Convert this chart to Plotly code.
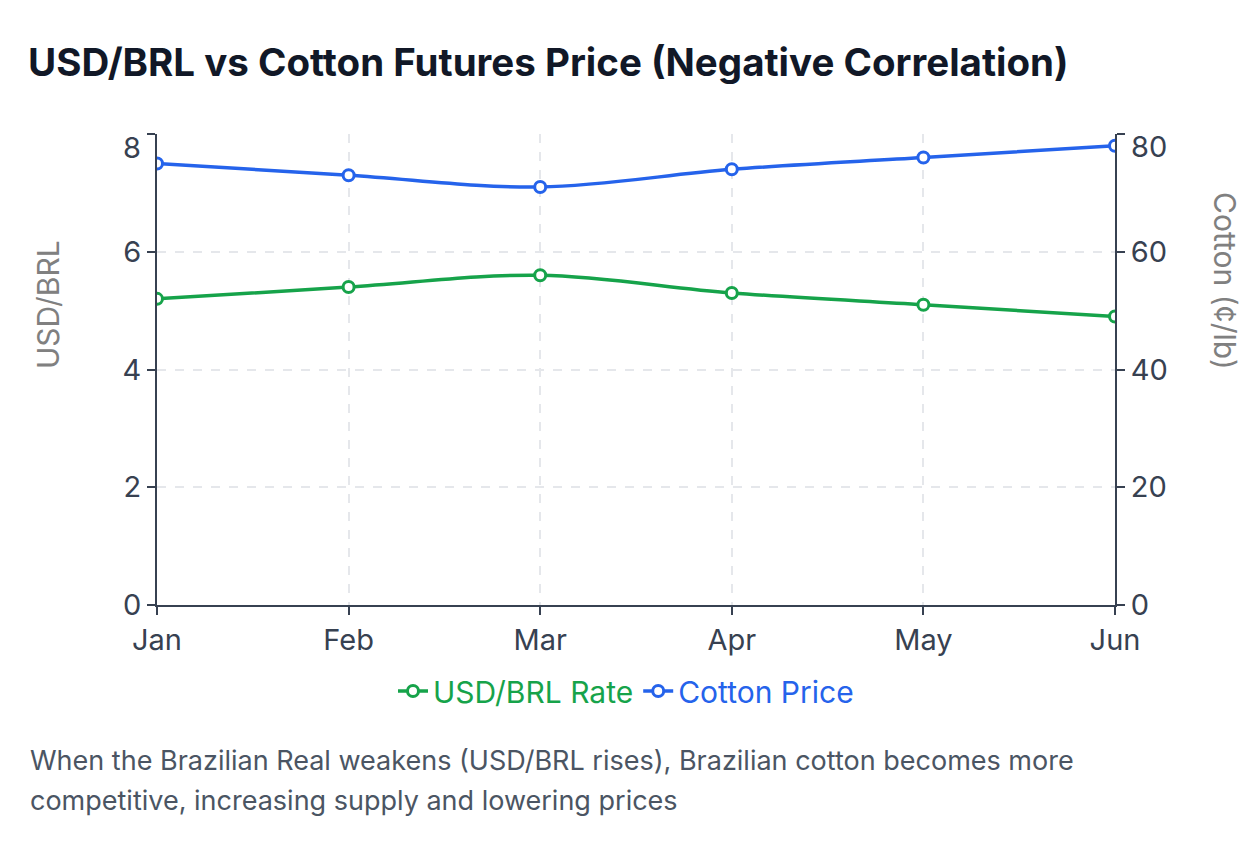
import plotly.graph_objects as go

months = ["Jan", "Feb", "Mar", "Apr", "May", "Jun"]
usd_brl = [5.2, 5.4, 5.6, 5.3, 5.1, 4.9]
cotton = [75, 73, 71, 74, 76, 78]
y1_ticks = [0, 2, 4, 6, 8]
y2_ticks = [0, 20, 40, 60, 80]

green = "#16a34a"
blue = "#2563eb"
axis_col = "#374151"
grid_col = "#e5e7eb"

# page body adds 8px around the figure
W, H = 1243, 848
left, right, top, bottom = 157, 1115, 134, 605  # plot box on screen
pw, ph = right - left, bottom - top

fig = go.Figure()

fig.add_trace(go.Scatter(x=months, y=usd_brl,
                         name=f"<span style='color:{green}'>USD/BRL Rate</span>",
                         mode="lines+markers",
                         line=dict(color=green, width=3.5, shape="spline"),
                         marker=dict(size=11, color="white",
                                     line=dict(color=green, width=3))))

fig.add_trace(go.Scatter(x=months, y=cotton,
                         name=f"<span style='color:{blue}'>Cotton Price</span>",
                         mode="lines+markers", yaxis="y2",
                         line=dict(color=blue, width=3.5, shape="spline"),
                         marker=dict(size=11, color="white",
                                     line=dict(color=blue, width=3))))

axis_common = dict(showline=True, linecolor=axis_col, linewidth=2,
                   ticks="outside", ticklen=8, tickcolor=axis_col, tickwidth=2,
                   tickfont=dict(size=29, color=axis_col))

# top labels sit just inside the plot in the original, so they are drawn separately
fig.update_layout(
    width=W, height=H,
    paper_bgcolor="white", plot_bgcolor="white",
    font=dict(family="Inter, sans-serif", color=axis_col, size=26),
    margin=dict(l=left - 8, r=W + 8 - right, t=top - 8, b=H + 8 - bottom),
    title=dict(text="<b>USD/BRL vs Cotton Futures Price (Negative Correlation)</b>",
               x=20 / W, xanchor="left", xref="container",
               y=1 - 55 / H, yanchor="middle", yref="container",
               font=dict(size=38.5, color="#111827")),
    xaxis=dict(type="category", range=[0, 5],
               showgrid=True, gridcolor=grid_col, griddash="dash", gridwidth=1.5,
               **axis_common),
    yaxis=dict(range=[0, 8], tickmode="array", tickvals=y1_ticks,
               ticktext=[str(v) for v in y1_ticks[:-1]] + [" "],
               showgrid=True, gridcolor=grid_col, griddash="dash", gridwidth=1.5,
               zeroline=False, **axis_common),
    yaxis2=dict(range=[0, 80], tickmode="array", tickvals=y2_ticks,
                ticktext=[str(v) for v in y2_ticks[:-1]] + [" "],
                overlaying="y", side="right",
                showgrid=False, zeroline=False, **axis_common),
    legend=dict(orientation="h", x=(626 - left) / pw, xanchor="center",
                y=-(691 - bottom) / ph, yanchor="middle",
                font=dict(size=30)),
    showlegend=True,
)

fig.add_annotation(text=str(y1_ticks[-1]), xref="paper", yref="y",
                   x=0, y=y1_ticks[-1], xanchor="right", yanchor="middle",
                   xshift=-14, yshift=-13, showarrow=False,
                   font=dict(size=29, color=axis_col))
fig.add_annotation(text=str(y2_ticks[-1]), xref="paper", yref="y2",
                   x=1, y=y2_ticks[-1], xanchor="left", yanchor="middle",
                   xshift=14, yshift=-12, showarrow=False,
                   font=dict(size=29, color=axis_col))

# axis titles
fig.add_annotation(text="USD/BRL", textangle=-90, showarrow=False,
                   xref="paper", yref="paper",
                   x=(48 - left) / pw, y=(bottom - 305) / ph,
                   xanchor="center", yanchor="middle",
                   font=dict(size=30, color="#808080"))
fig.add_annotation(text="Cotton (¢/lb)", textangle=90, showarrow=False,
                   xref="paper", yref="paper",
                   x=(1225 - left) / pw, y=(bottom - 281) / ph,
                   xanchor="center", yanchor="middle",
                   font=dict(size=30, color="#808080"))

note_lines = ["When the Brazilian Real weakens (USD/BRL rises), Brazilian cotton becomes more",
              "competitive, increasing supply and lowering prices"]
for i, line in enumerate(note_lines):
    fig.add_annotation(text=line, xref="paper", yref="paper",
                       x=(28 - left) / pw, xanchor="left",
                       y=-(760 + 40 * i - bottom) / ph, yanchor="middle",
                       align="left", showarrow=False,
                       font=dict(size=27, color="#4b5563"))

fig.write_html("out.html")
